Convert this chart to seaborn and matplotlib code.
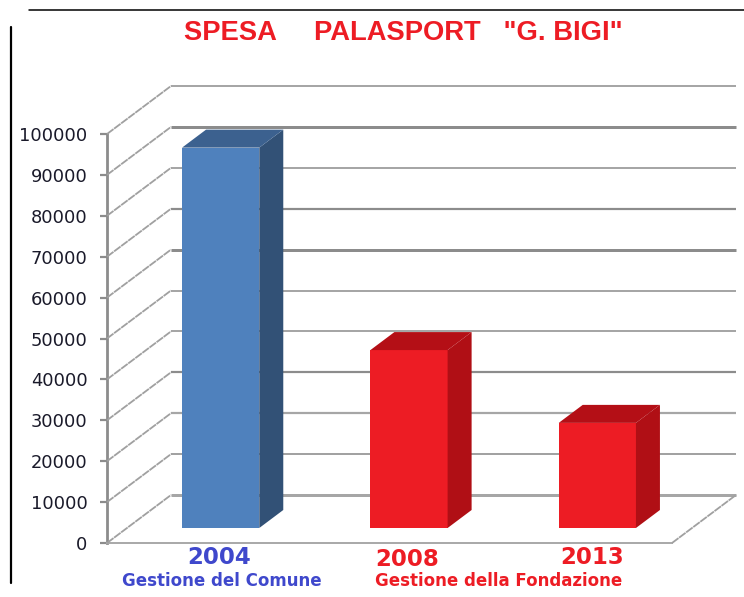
import matplotlib
matplotlib.use("Agg")
import matplotlib.pyplot as plt
from matplotlib.patches import Polygon
from matplotlib.transforms import ScaledTranslation
import seaborn as sns
import pandas as pd

years = ["2004", "2008", "2013"]
spesa = [93000, 43500, 25700]
yticks = [0, 10000, 20000, 30000, 40000, 50000, 60000, 70000, 80000, 90000, 100000]
subtitle_left = "Gestione del Comune"
subtitle_right = "Gestione della Fondazione"
title = 'SPESA     PALASPORT   "G. BIGI"'

BLUE, BLUE_TOP, BLUE_SIDE = "#4f81bd", "#3c618f", "#325176"
RED, RED_TOP, RED_SIDE = "#ed1c24", "#b40f16", "#b00f15"
W, H = 744, 597
DPI = 100

# (colour, width) of each back-wall gridline
GRID = {0: ("#a6a6a6", 3.0), 10000: ("#8c8c8c", 1.6), 20000: ("#a6a6a6", 2.2), 30000: ("#8c8c8c", 2.2),
        40000: ("#a6a6a6", 2.0), 50000: ("#a6a6a6", 2.0), 60000: ("#8c8c8c", 3.0), 70000: ("#8c8c8c", 2.2),
        80000: ("#a6a6a6", 2.0), 90000: ("#8c8c8c", 3.0), 100000: ("#a6a6a6", 2.0)}

sns.set_theme(style="white")
plt.rcParams["font.family"] = ["Liberation Sans", "DejaVu Sans"]

fig = plt.figure(figsize=(W / DPI, H / DPI), dpi=DPI)
L, R, T, B = 107, 672, 134, 543
ax = fig.add_axes([L / W, 1 - B / H, (R - L) / W, (B - T) / H])
df = pd.DataFrame({"anno": years, "spesa": spesa})
sns.barplot(data=df, x="anno", y="spesa", hue="anno", palette=[BLUE, RED, RED],
            width=0.41, saturation=1, legend=False, ax=ax, zorder=5, linewidth=0)
ax.set_xlim(-0.5, 2.5)
ax.set_ylim(0, 100000)
ax.set_xlabel("")
ax.set_ylabel("")
ax.patch.set_alpha(0)
for s in ["top", "right"]:
    ax.spines[s].set_visible(False)
ax.spines["left"].set_color("#8c8c8c")
ax.spines["left"].set_linewidth(2)
ax.spines["bottom"].set_linewidth(1.4)
ax.spines["bottom"].set_color("#a8a8a8")


def px(dx, dy):
    """offset in pixels, y up"""
    return ScaledTranslation(dx / DPI, dy / DPI, fig.dpi_scale_trans)


# back wall & floor
back = ax.transData + px(64, 48)
front = ax.transData
x0, x1 = ax.get_xlim()
inv = fig.transFigure.inverted()
DIAG = dict(color="#a0a0a0", lw=1.3, ls=(0, (4.5, 0.4)))
for v in yticks:
    col, thick = GRID[v]
    ax.plot([x0, x1], [v, v], transform=back, color=col, lw=thick * 0.72, zorder=2,
            clip_on=False, solid_capstyle="butt")
    a, b = inv.transform(front.transform((x0, v))), inv.transform(back.transform((x0, v)))
    fig.add_artist(plt.Line2D([a[0], b[0]], [a[1], b[1]], **DIAG))
# floor right edge
a, b = inv.transform(front.transform((x1, 0))), inv.transform(back.transform((x1, 0)))
fig.add_artist(plt.Line2D([a[0], b[0]], [a[1], b[1]], **DIAG))

# bars: moved back into the box, with 3D top/side
bar_off = px(19.5, 15)
depth = (24, 18)
tops = [BLUE_TOP, RED_TOP, RED_TOP]
sides = [BLUE_SIDE, RED_SIDE, RED_SIDE]
for patch, top_c, side_c in zip(ax.patches, tops, sides):
    patch.set_transform(ax.transData + bar_off)
    patch.set_clip_on(False)
    bx, by, bw, bh = patch.get_x(), patch.get_y(), patch.get_width(), patch.get_height()
    base = ax.transData + bar_off
    d = base.transform([(bx, by), (bx + bw, by), (bx + bw, by + bh), (bx, by + bh)])
    dx, dy = depth
    top = [d[3], d[2], d[2] + (dx, dy), d[3] + (dx, dy)]
    side = [d[1], d[1] + (dx, dy), d[2] + (dx, dy), d[2]]
    fig.add_artist(Polygon(side, closed=True, transform=None, fc=side_c, ec="none", zorder=6))
    fig.add_artist(Polygon(top, closed=True, transform=None, fc=top_c, ec="none", zorder=6))

ax.set_yticks(yticks)
ax.set_yticklabels([str(v) for v in yticks], fontsize=12.9, color="#1a1a2a", family="DejaVu Sans")
ax.tick_params(axis="y", which="major", left=True, length=5, width=1.6, color="#8c8c8c", pad=9)
ax.set_xticks([])

blue_t, red_t = "#3f48cc", "#ed1c24"
fig_t = lambda x, y: (x / W, 1 - y / H)
for lab, x, c, y in zip(years, [219, 407, 592], [blue_t, red_t, red_t], [558, 559, 557]):
    fig.text(*fig_t(x, y), lab, color=c, fontsize=16.5, fontweight="bold", family="DejaVu Sans",
             ha="center", va="center")
fig.text(*fig_t(222, 581), subtitle_left, color=blue_t, fontsize=12, fontweight="bold",
         family="DejaVu Sans", ha="center", va="center")
fig.text(*fig_t(499, 581), subtitle_right, color=red_t, fontsize=12, fontweight="bold",
         family="DejaVu Sans", ha="center", va="center")
fig.text(*fig_t(403, 33), title, color=red_t, fontsize=19.7, fontweight="bold", ha="center", va="center")

# frame lines from the pasted picture
fig.add_artist(plt.Line2D([11 / W, 11 / W], [1 - 583 / H, 1 - 27 / H], color="black", lw=1.6))
fig.add_artist(plt.Line2D([29 / W, 1], [1 - 9.5 / H, 1 - 9.5 / H], color="black", lw=1.1))

fig.savefig("out.png", dpi=DPI)
